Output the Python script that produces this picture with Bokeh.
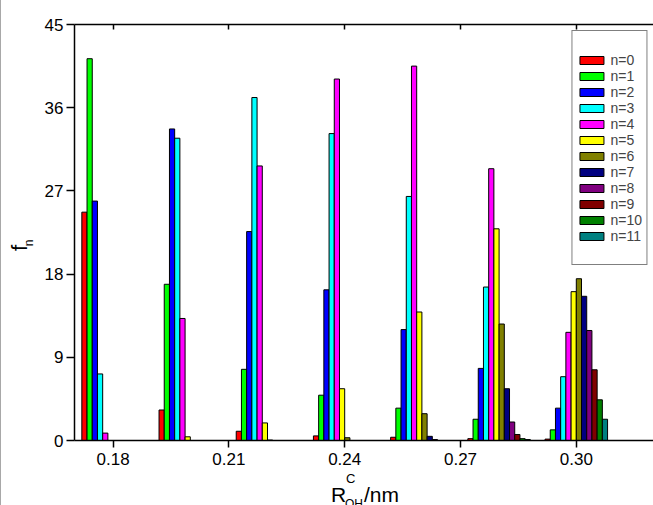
from bokeh.plotting import figure
from bokeh.models import (Range1d, FixedTicker, LinearAxis, Legend, LegendItem,
                          ColumnDataSource, Div)
from bokeh.layouts import row, column
from bokeh.transform import dodge
from bokeh.embed import file_html
from bokeh.resources import INLINE

# ---- data ----
positions = [0.18, 0.20, 0.22, 0.24, 0.26, 0.28, 0.30]
n0 = [24.7, 3.3, 1.0, 0.5, 0.35, 0.2, 0.15]
n1 = [41.3, 16.9, 7.7, 4.9, 3.5, 2.3, 1.15]
n2 = [25.9, 33.7, 22.6, 16.3, 12.0, 7.8, 3.5]
n3 = [7.2, 32.7, 37.1, 33.2, 26.4, 16.6, 6.9]
n4 = [0.8, 13.2, 29.7, 39.1, 40.5, 29.4, 11.7]
n5 = [0.0, 0.4, 1.9, 5.6, 13.9, 22.9, 16.1]
n6 = [0.0, 0.0, 0.05, 0.3, 2.9, 12.6, 17.5]
n7 = [0.0, 0.0, 0.0, 0.0, 0.45, 5.6, 15.6]
n8 = [0.0, 0.0, 0.0, 0.0, 0.1, 2.0, 11.9]
n9 = [0.0, 0.0, 0.0, 0.0, 0.0, 0.65, 7.65]
n10 = [0.0, 0.0, 0.0, 0.0, 0.0, 0.2, 4.4]
n11 = [0.0, 0.0, 0.0, 0.0, 0.0, 0.1, 2.3]
series = [n0, n1, n2, n3, n4, n5, n6, n7, n8, n9, n10, n11]
series_labels = ["n=0", "n=1", "n=2", "n=3", "n=4", "n=5",
                 "n=6", "n=7", "n=8", "n=9", "n=10", "n=11"]
colors = ["#FF0000", "#00FF00", "#0000FF", "#00FFFF", "#FF00FF", "#FFFF00",
          "#808000", "#000080", "#800080", "#800000", "#008000", "#008080"]
x_ticks = [0.18, 0.21, 0.24, 0.27, 0.30]
x_tick_labels = ["0.18", "0.21", "0.24", "0.27", "0.30"]
y_ticks = [0, 9, 18, 27, 36, 45]

FONT = "Liberation Sans"
BAR_W = 0.00135

p = figure(width=615, height=472, output_backend="svg", toolbar_location=None,
           x_range=Range1d(0.17, 0.32), y_range=Range1d(0, 45),
           min_border_left=36, min_border_right=0, min_border_top=24,
           min_border_bottom=32)
p.outline_line_color = None
p.xgrid.visible = False
p.ygrid.visible = False
p.background_fill_color = "white"
p.border_fill_color = "white"

data = {"x": positions}
for i, s in enumerate(series):
    data[f"n{i}"] = s
src = ColumnDataSource(data)

renderers = []
for i, s in enumerate(series):
    r = p.vbar(x=dodge("x", (i - 5.5) * BAR_W, range=p.x_range), top=f"n{i}",
               width=BAR_W, bottom=0, source=src,
               fill_color=colors[i], line_color="black", line_width=1)
    renderers.append(r)

# axes
xa = p.xaxis[0]
xa.ticker = FixedTicker(ticks=x_ticks)
xa.major_label_overrides = {t: l for t, l in zip(x_ticks, x_tick_labels)}
xa.major_tick_out = 7
xa.major_tick_in = 0
xa.minor_tick_out = 0
xa.minor_tick_in = 0
xa.major_label_text_font = FONT
xa.major_label_text_font_size = "17px"
xa.major_label_text_color = "black"
xa.major_label_standoff = 5
xa.axis_line_width = 1.5
xa.major_tick_line_width = 1.5

ya = p.yaxis[0]
ya.ticker = FixedTicker(ticks=y_ticks)
ya.major_tick_out = 8
ya.major_tick_in = 0
ya.minor_tick_out = 0
ya.minor_tick_in = 0
ya.major_label_text_font = FONT
ya.major_label_text_font_size = "17px"
ya.major_label_text_color = "black"
ya.major_label_standoff = 3
ya.axis_line_width = 1.5
ya.major_tick_line_width = 1.5

top = LinearAxis(ticker=FixedTicker(ticks=x_ticks),
                 major_label_overrides={t: "" for t in x_ticks},
                 major_label_text_font_size="10px",
                 major_tick_in=5, major_tick_out=0, minor_tick_in=0, minor_tick_out=0,
                 axis_line_width=1.5, major_tick_line_width=1.5, major_label_standoff=0)
p.add_layout(top, "above")

# legend (a transparent spacer row at the bottom, a blank title at the top)
spacer_src = ColumnDataSource({"x": [positions[0]], "top": [0.0]})
blank = p.vbar(x="x", top="top", width=0, source=spacer_src,
               fill_alpha=0, line_alpha=0)
items = [LegendItem(label=lab, renderers=[r]) for lab, r in zip(series_labels, renderers)]
items.append(LegendItem(label="\u00a0", renderers=[blank]))
legend = Legend(items=items, location="top_right", margin=6, padding=4,
                spacing=0, label_height=16, glyph_height=10, glyph_width=30,
                label_standoff=4, label_text_font=FONT, label_text_font_size="14px",
                title="\u00a0", title_text_font_size="14px", title_standoff=1,
                border_line_color="black", border_line_width=1,
                background_fill_color="white", background_fill_alpha=1)
p.add_layout(legend)

# axis titles (real HTML text, placed beside the plot)
ylab_html = (
    "<div style=\"position:relative;width:38px;height:505px;overflow:hidden;"
    "font-family:'Liberation Sans';color:black;border-left:1px solid #a8a8a8;box-sizing:border-box;\">"
    "<span style=\"position:absolute;left:15px;top:237px;font-size:22px;line-height:22px;"
    "width:7px;height:22px;text-align:center;transform:rotate(-90deg);\">f</span>"
    "<span style=\"position:absolute;left:24px;top:237px;font-size:12px;line-height:12px;"
    "width:7px;height:12px;text-align:center;transform:rotate(-90deg);\">n</span>"
    "</div>"
)
xlab_html = (
    "<div style=\"position:relative;width:615px;height:33px;overflow:hidden;"
    "font-family:'Liberation Sans';color:black;\">"
    "<span style=\"position:absolute;left:293px;top:12px;font-size:21px;line-height:21px;white-space:nowrap;\">R</span>"
    "<span style=\"position:absolute;left:308px;top:0px;font-size:13px;line-height:13px;white-space:nowrap;\">C</span>"
    "<span style=\"position:absolute;left:307px;top:26px;font-size:12px;line-height:12px;white-space:nowrap;\">OH</span>"
    "<span style=\"position:absolute;left:326px;top:12px;font-size:21px;line-height:21px;white-space:nowrap;\">/nm</span>"
    "</div>"
)
ydiv = Div(text=ylab_html, width=38, height=505, margin=0)
xdiv = Div(text=xlab_html, width=615, height=33, margin=0)

layout = row(ydiv, column(p, xdiv, spacing=0), spacing=0)

open("out.html", "w").write(file_html(layout, INLINE))
